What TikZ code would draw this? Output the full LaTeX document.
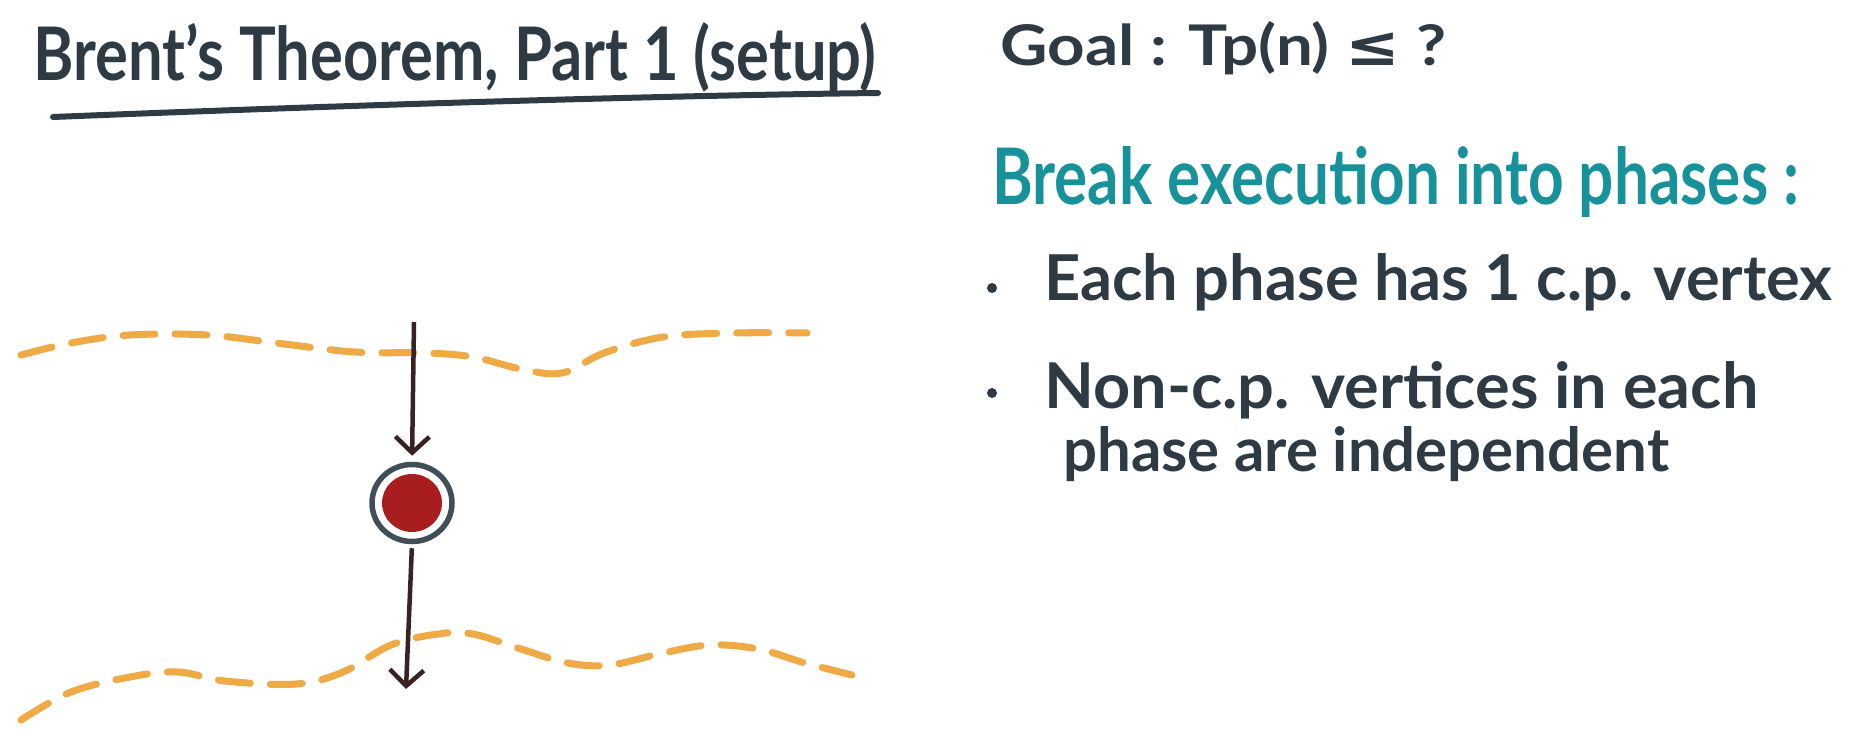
\documentclass[tikz,border=0pt]{standalone}
\usepackage{fontspec}
\setmainfont{Lato}
\newfontfamily\symf{DejaVu Sans}
\usetikzlibrary{arrows.meta,shapes.geometric}
\definecolor{ink}{HTML}{2E3B45}
\definecolor{tealink}{HTML}{17929A}
\definecolor{orng}{HTML}{F0AA45}
\definecolor{brn}{HTML}{3B2222}
\definecolor{vred}{HTML}{A81E1E}
\definecolor{vring}{HTML}{3F4E58}
\begin{document}
\begin{tikzpicture}[x=1pt,y=-1pt,
  txt/.style={anchor=base west, inner sep=0pt, text=ink, font=\bfseries},
  phase/.style={orng, line width=7pt, line cap=round, dash pattern=on 32pt off 20pt},
  flow/.style={brn, line width=4.5pt, -{Straight Barb[length=16pt,width=34pt,line width=4.5pt]}},
  bullet/.style={circle, fill=ink, inner sep=0pt, minimum size=10pt}]
\useasboundingbox (0,0) rectangle (1856,755);
\fill[white] (0,0) rectangle (1856,755);
% title
\node[txt] (title) at (33,80) {\resizebox{843pt}{58pt}{Brent's Theorem, Part 1 (setup)}};
\coordinate (u0) at (53,117);
\coordinate (u1) at (878,93);
\draw[ink, line width=6pt, line cap=round] (u0) .. controls (400,103) and (700,95) .. (u1);
% right text
\node[txt] (goal) at (1000,65) {\resizebox{446pt}{44pt}{Goal : Tp(n) {\symf\bfseries ≤} ?}};
\node[txt, text=tealink] (brk) at (992,204) {\resizebox{807pt}{58pt}{Break execution into phases :}};
\node[bullet] (b1) at (992,288) {};
\node[txt] (l1) at (1044,300) {\resizebox{788pt}{47pt}{Each phase has 1 c.p. vertex}};
\node[bullet] (b2) at (992,393) {};
\node[txt] (l2) at (1044,408) {\resizebox{714pt}{47pt}{Non-c.p. vertices in each}};
\node[txt] (l3) at (1063,471) {\resizebox{606pt}{45pt}{phase are independent}};
% phase boundaries
\draw[phase] plot[smooth, tension=0.6] coordinates {(21,355) (71,343) (130,335) (207,335) (284,344) (355,352) (426,353) (473,357) (521,369) (562,373) (604,353) (663,337) (734,333) (807,333)};
\draw[phase] plot[smooth, tension=0.6] coordinates {(21,720) (71,692) (130,677) (178,672) (225,681) (296,684) (343,672) (391,645) (438,634) (473,634) (521,649) (568,663) (610,665) (663,653) (710,645) (758,649) (805,663) (852,675)};
% critical path vertex
\node[ellipse, draw=vring, line width=5.5pt, minimum width=80pt, minimum height=77pt, inner sep=0pt] (v) at (412,503) {};
\fill[vred] (v.center) ellipse (30pt and 29pt);
\coordinate (a0) at (414,322);
\coordinate (a1) at (406,689);
\draw[flow, shorten >=6pt] (a0) -- (v.north);
\draw[flow, shorten <=4pt] (v.south) -- (a1);
\end{tikzpicture}
\end{document}
